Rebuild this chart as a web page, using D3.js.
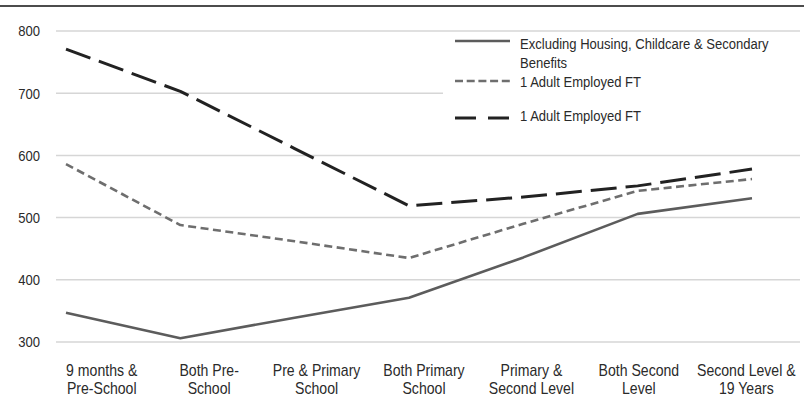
<!DOCTYPE html>
<html>
<head>
<meta charset="utf-8">
<script src="https://cdn.jsdelivr.net/npm/d3@7"></script>
<style>
  html, body { margin: 0; padding: 0; background: #fff; }
  svg { display: block; }
  text { font-family: "Liberation Sans", Arial, sans-serif; fill: #2a2a2a; }
</style>
</head>
<body>
<svg id="chart" width="804" height="409"></svg>
<script>
// Household stages along the x axis
const categories = [
  "9 months & Pre-School", "Both Pre-School", "Pre & Primary School",
  "Both Primary School", "Primary & Second Level", "Both Second Level",
  "Second Level & 19 Years"
];
// Two-line tick labels for each stage
const tickLabels = [
  ["9 months &", "Pre-School"],
  ["Both Pre-", "School"],
  ["Pre & Primary", "School"],
  ["Both Primary", "School"],
  ["Primary &", "Second Level"],
  ["Both Second", "Level"],
  ["Second Level &", "19 Years"]
];
const yTicks = [300, 400, 500, 600, 700, 800];

// Weekly amounts per series
const seriesNames = [
  "Excluding Housing, Childcare & Secondary Benefits",
  "1 Adult Employed FT",
  "1 Adult Employed FT"
];
const excludingValues = [347, 306, 339, 371, 436, 506, 531];
const employedShortDash = [586, 488, 462, 435, 490, 543, 562];
const employedLongDash = [771, 703, 611, 519, 533, 551, 578];

const svg = d3.select("#chart");

const y = d3.scaleLinear().domain([300, 800]).range([342, 31]);
const xPoint = d3.scalePoint().domain(categories).range([66, 752]);
const xBand = d3.scaleBand().domain(categories).range([48, 800]);

// condensed look: narrow the regular face horizontally
const narrow = 0.87;

// rule across the top
svg.append("line")
  .attr("x1", 0).attr("x2", 804).attr("y1", 6).attr("y2", 6)
  .attr("stroke", "#111").attr("stroke-width", 1.6);

// horizontal gridlines
svg.append("g").selectAll("line").data(yTicks).join("line")
  .attr("x1", 56).attr("x2", 800)
  .attr("y1", d => y(d)).attr("y2", d => y(d))
  .attr("stroke", "#d6d6d6").attr("stroke-width", 1.5);

// y axis labels
const yAxis = d3.axisLeft(y).tickValues(yTicks).tickSize(0).tickPadding(0);
const gy = svg.append("g").attr("transform", "translate(40,0)").call(yAxis);
gy.select(".domain").remove();
gy.selectAll("text")
  .attr("x", 0)
  .attr("font-size", 15).attr("fill", "#2a2a2a")
  .attr("transform", `scale(${narrow},1)`)
  .style("font-family", "'Liberation Sans', Arial, sans-serif");

// x axis labels (two lines each)
const xAxis = d3.axisBottom(xBand).tickSize(0).tickFormat("");
const gx = svg.append("g").call(xAxis);
gx.select(".domain").remove();
gx.selectAll(".tick text").remove();
gx.selectAll(".tick").each(function(d, i) {
  const t = d3.select(this).append("text")
    .attr("text-anchor", "middle")
    .attr("font-size", 16)
    .attr("transform", `scale(${narrow + 0.01},1)`)
    .style("font-family", "'Liberation Sans', Arial, sans-serif")
    .attr("fill", "#2a2a2a");
  tickLabels[i].forEach((line, k) => {
    t.append("tspan").attr("x", 0).attr("y", 376 + k * 18.5).text(line);
  });
});

// series styles
const series = [
  { name: seriesNames[0], values: excludingValues, color: "#5c5c5c", width: 2.6, dash: null, legendDash: null },
  { name: seriesNames[1], values: employedShortDash, color: "#6e6e6e", width: 2.6, dash: "8,4.5", legendDash: "8,3.7" },
  { name: seriesNames[2], values: employedLongDash, color: "#222", width: 3, dash: "26,9", legendDash: "21,12" }
];

const line = d3.line()
  .x((d, i) => xPoint(categories[i]))
  .y(d => y(d));

svg.append("g").selectAll("path").data(series).join("path")
  .attr("d", s => line(s.values))
  .attr("fill", "none")
  .attr("stroke", s => s.color)
  .attr("stroke-width", s => s.width)
  .attr("stroke-dasharray", s => s.dash)
  .attr("stroke-linejoin", "round");

// legend
const legend = svg.append("g");
legend.append("rect")
  .attr("x", 443).attr("y", 33).attr("width", 361).attr("height", 100)
  .attr("fill", "#fff");

const legendRows = [
  { s: series[0], lineY: 41, lines: ["Excluding Housing, Childcare & Secondary", "Benefits"], textY: 49 },
  { s: series[1], lineY: 81, lines: ["1 Adult Employed FT"], textY: 87 },
  { s: series[2], lineY: 118, lines: ["1 Adult Employed FT"], textY: 121 }
];
legendRows.forEach(r => {
  legend.append("line")
    .attr("x1", 455).attr("x2", 510).attr("y1", r.lineY).attr("y2", r.lineY)
    .attr("stroke", r.s.color).attr("stroke-width", r.s.width)
    .attr("stroke-dasharray", r.s.legendDash);
  const t = legend.append("text").attr("font-size", 15)
    .attr("transform", `translate(520,0) scale(${narrow},1)`);
  r.lines.forEach((l, k) => {
    t.append("tspan").attr("x", 0).attr("y", r.textY + k * 19).text(l);
  });
});
</script>
</body>
</html>
